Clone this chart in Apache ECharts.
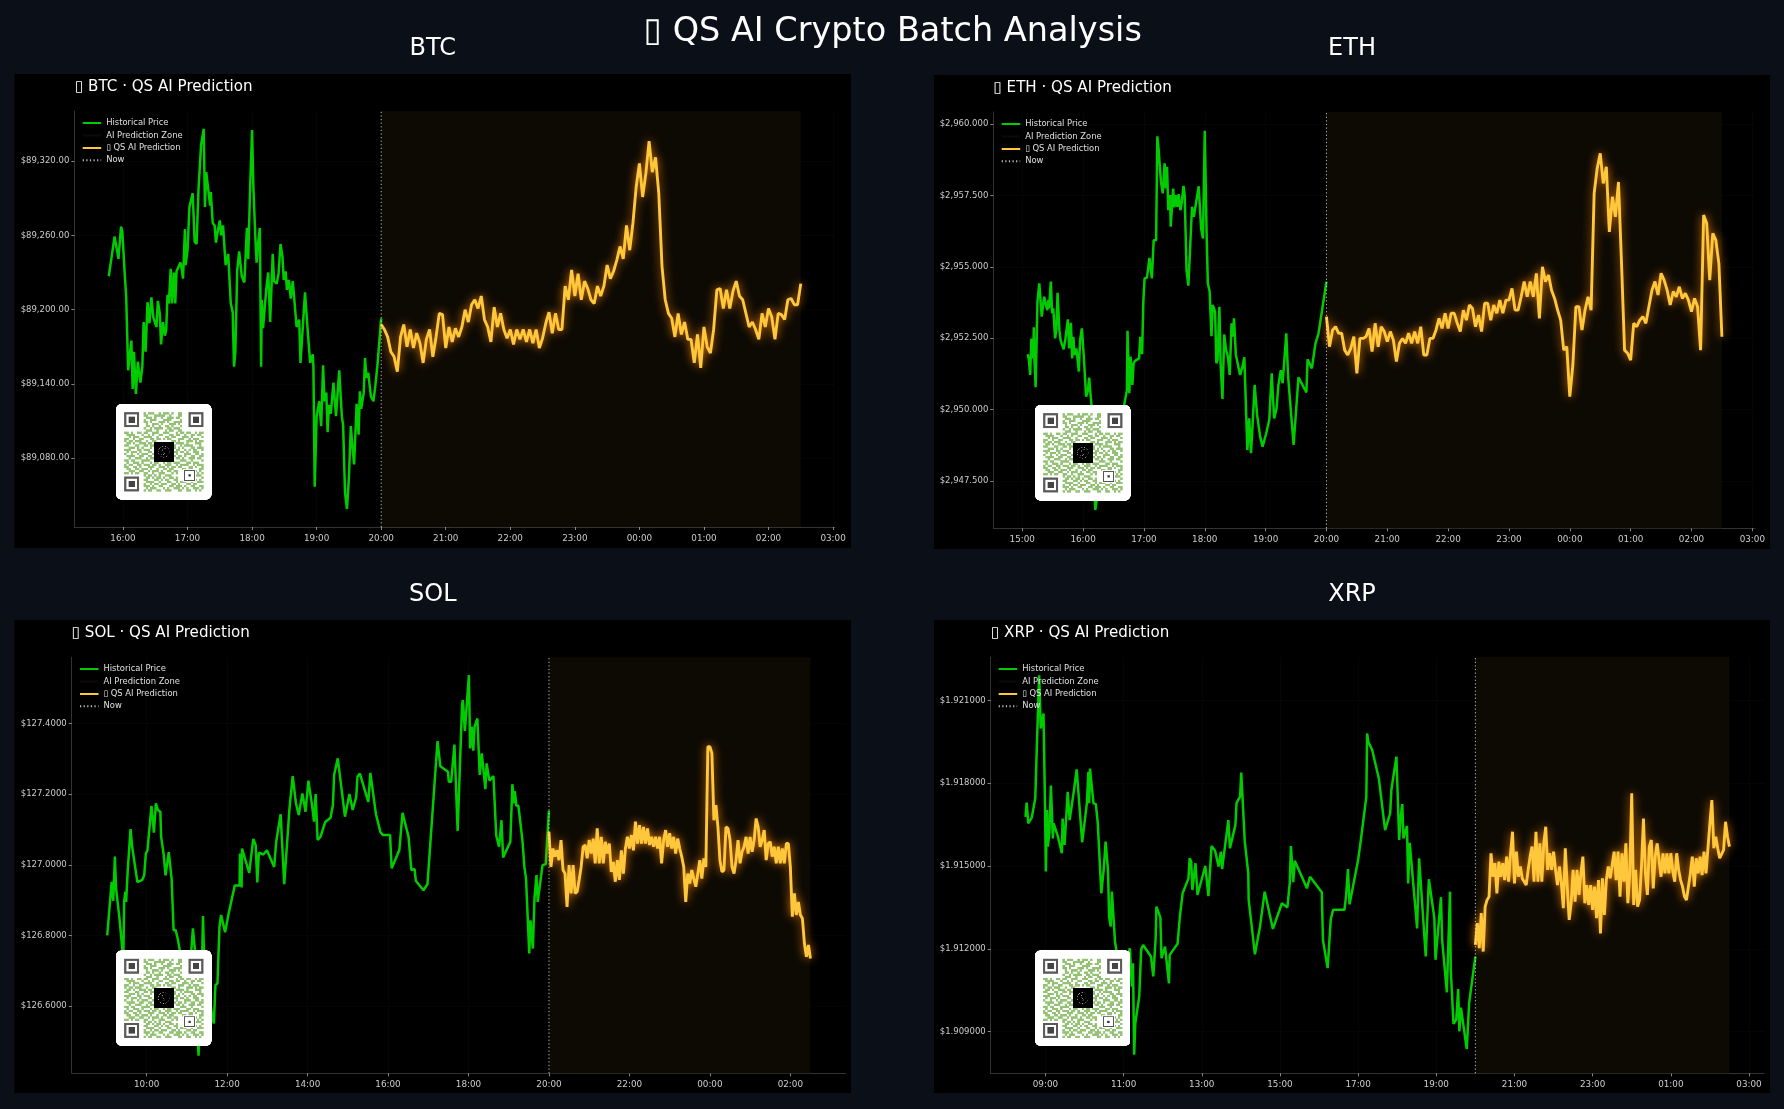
<!DOCTYPE html>
<html>
<head>
<meta charset="utf-8">
<title>QS AI Crypto Batch Analysis</title>
<script src="https://cdn.jsdelivr.net/npm/echarts@6/dist/echarts.min.js"></script>
<style>
  html, body { margin: 0; padding: 0; background: #0b0f17; }
  #main { width: 1784px; height: 1109px; }
</style>
</head>
<body>
<div id="main"></div>
<script>
// history points are [hour, price], hours past 24 belong to the next day
let btcHistory = [[15.78,89227],[15.87,89259],[15.93,89241],[15.97,89267],[15.99,89263],[16.02,89235],[16.05,89210],[16.08,89151],[16.11,89151],[16.13,89175],[16.15,89136],[16.17,89166],[16.20,89132],[16.23,89158],[16.27,89141],[16.30,89154],[16.32,89190],[16.35,89166],[16.38,89206],[16.41,89189],[16.44,89210],[16.47,89194],[16.50,89189],[16.52,89186],[16.54,89207],[16.57,89197],[16.59,89172],[16.62,89190],[16.65,89179],[16.67,89184],[16.69,89212],[16.71,89205],[16.74,89233],[16.76,89205],[16.79,89230],[16.81,89205],[16.83,89231],[16.86,89231],[16.89,89238],[16.91,89233],[16.93,89225],[16.96,89265],[16.97,89236],[17.00,89248],[17.03,89283],[17.06,89283],[17.08,89294],[17.11,89255],[17.14,89253],[17.17,89297],[17.21,89333],[17.25,89346],[17.27,89283],[17.29,89311],[17.31,89302],[17.33,89303],[17.35,89284],[17.36,89295],[17.39,89270],[17.42,89268],[17.44,89254],[17.47,89264],[17.50,89272],[17.52,89260],[17.55,89268],[17.59,89236],[17.63,89245],[17.67,89205],[17.70,89198],[17.72,89154],[17.74,89165],[17.77,89232],[17.80,89247],[17.84,89227],[17.88,89222],[17.92,89266],[17.94,89241],[17.97,89299],[18.00,89345],[18.02,89299],[18.05,89259],[18.07,89238],[18.09,89252],[18.12,89266],[18.14,89154],[18.15,89208],[18.17,89185],[18.20,89186],[18.22,89217],[18.25,89230],[18.28,89190],[18.32,89245],[18.34,89223],[18.38,89221],[18.41,89229],[18.44,89253],[18.47,89243],[18.49,89224],[18.52,89231],[18.54,89216],[18.57,89224],[18.60,89209],[18.63,89223],[18.65,89223],[18.69,89186],[18.73,89192],[18.75,89157],[18.77,89157],[18.82,89214],[18.86,89184],[18.90,89157],[18.94,89164],[18.95,89154],[18.97,89057],[19.00,89114],[19.04,89126],[19.07,89106],[19.10,89155],[19.12,89126],[19.15,89133],[19.17,89101],[19.19,89123],[19.22,89116],[19.26,89141],[19.30,89114],[19.35,89151],[19.39,89114],[19.41,89107],[19.44,89052],[19.47,89039],[19.50,89065],[19.53,89106],[19.55,89092],[19.58,89075],[19.62,89124],[19.65,89099],[19.67,89134],[19.69,89120],[19.73,89133],[19.75,89161],[19.77,89145],[19.80,89149],[19.84,89130],[19.88,89126],[19.91,89139],[19.94,89154],[19.97,89154],[20.00,89193]]

let btcPrediction = [89188,89184,89178,89166,89162,89150,89178,89188,89170,89184,89169,89181,89173,89157,89176,89184,89162,89178,89197,89196,89169,89186,89174,89185,89178,89186,89200,89190,89204,89208,89201,89211,89192,89186,89174,89202,89186,89197,89184,89177,89184,89172,89184,89176,89184,89174,89184,89173,89184,89169,89177,89189,89198,89181,89197,89184,89184,89219,89208,89232,89211,89229,89208,89223,89217,89208,89205,89219,89211,89219,89236,89225,89231,89240,89251,89241,89268,89248,89270,89299,89318,89291,89310,89336,89311,89323,89294,89235,89208,89197,89193,89178,89197,89180,89190,89176,89176,89157,89180,89153,89186,89170,89165,89184,89216,89217,89201,89216,89201,89215,89223,89211,89208,89197,89186,89190,89184,89176,89197,89186,89201,89194,89176,89197,89196,89192,89208,89209,89204,89204,89221]

let ethHistory = [[15.09,2951.94],[15.11,2951.73],[15.13,2951.21],[15.15,2952.49],[15.18,2951.79],[15.19,2952.88],[15.20,2951.73],[15.22,2950.78],[15.25,2953.78],[15.28,2954.42],[15.32,2953.25],[15.33,2953.25],[15.36,2953.95],[15.39,2953.99],[15.41,2953.48],[15.43,2953.83],[15.44,2953.54],[15.47,2954.48],[15.49,2953.37],[15.51,2953.54],[15.54,2952.49],[15.56,2952.78],[15.58,2954.09],[15.61,2952.78],[15.63,2952.43],[15.66,2952.43],[15.68,2952.11],[15.71,2952.49],[15.73,2952.55],[15.75,2953.16],[15.77,2952.14],[15.80,2953.04],[15.82,2951.79],[15.84,2952.55],[15.86,2951.91],[15.89,2952.14],[15.93,2951.33],[15.95,2952.43],[15.98,2952.84],[16.01,2951.91],[16.04,2951.91],[16.05,2950.45],[16.08,2950.68],[16.10,2951.12],[16.12,2950.57],[16.14,2950.10],[16.17,2948.00],[16.20,2946.48],[16.22,2946.54],[16.28,2947.65],[16.36,2947.18],[16.44,2947.53],[16.53,2947.65],[16.61,2949.17],[16.66,2949.98],[16.69,2950.33],[16.72,2950.68],[16.73,2952.76],[16.76,2950.57],[16.78,2951.85],[16.81,2950.86],[16.83,2951.62],[16.85,2951.70],[16.92,2951.79],[16.94,2952.55],[16.97,2951.94],[16.99,2953.78],[17.01,2954.59],[17.05,2954.62],[17.09,2955.31],[17.13,2954.59],[17.16,2955.93],[17.20,2955.93],[17.22,2959.57],[17.24,2959.14],[17.28,2957.97],[17.31,2957.57],[17.34,2958.62],[17.36,2957.74],[17.38,2958.50],[17.40,2956.98],[17.43,2957.51],[17.44,2956.40],[17.48,2957.74],[17.50,2957.08],[17.52,2957.51],[17.55,2957.10],[17.57,2957.54],[17.60,2956.98],[17.62,2957.22],[17.65,2957.83],[17.67,2957.51],[17.70,2954.88],[17.73,2954.34],[17.76,2955.70],[17.79,2957.10],[17.82,2956.75],[17.85,2956.81],[17.90,2957.82],[17.94,2956.34],[17.97,2955.99],[18.00,2959.76],[18.03,2956.17],[18.05,2954.42],[18.08,2954.13],[18.11,2952.57],[18.13,2953.66],[18.17,2953.43],[18.19,2951.62],[18.21,2951.73],[18.24,2953.60],[18.26,2951.62],[18.29,2950.37],[18.32,2952.63],[18.35,2952.08],[18.38,2951.85],[18.41,2951.21],[18.44,2953.02],[18.46,2952.55],[18.48,2953.19],[18.51,2951.94],[18.54,2951.97],[18.58,2951.21],[18.62,2951.50],[18.65,2951.83],[18.70,2948.58],[18.73,2949.69],[18.76,2948.47],[18.79,2949.63],[18.82,2950.86],[18.86,2949.81],[18.91,2949.05],[18.95,2948.70],[19.01,2949.17],[19.06,2949.63],[19.10,2951.27],[19.14,2949.69],[19.18,2950.04],[19.21,2950.86],[19.25,2951.38],[19.28,2950.92],[19.34,2952.67],[19.37,2951.15],[19.46,2948.76],[19.54,2951.13],[19.67,2950.60],[19.69,2951.76],[19.76,2951.44],[19.82,2952.32],[19.87,2952.67],[20.00,2954.48]]

let ethPrediction = [2953.25,2952.20,2952.78,2952.90,2952.67,2952.67,2952.08,2951.91,2952.14,2952.55,2951.27,2952.49,2952.49,2952.55,2952.84,2952.03,2953.02,2952.20,2952.90,2952.73,2952.38,2952.73,2952.43,2951.68,2952.32,2952.49,2952.32,2952.67,2952.32,2952.73,2952.32,2952.90,2951.91,2951.91,2952.49,2952.49,2952.78,2953.19,2952.84,2953.37,2952.84,2953.37,2953.37,2953.02,2952.73,2953.48,2953.13,2953.66,2953.54,2952.90,2953.31,2952.73,2953.72,2953.72,2953.13,2953.66,2953.37,2953.83,2953.37,2953.83,2953.83,2954.24,2953.48,2953.48,2953.95,2954.48,2953.95,2954.48,2953.95,2954.77,2953.19,2955.00,2954.48,2954.71,2954.18,2953.89,2953.48,2953.13,2952.08,2952.20,2950.45,2951.56,2953.60,2953.60,2952.78,2953.48,2953.95,2953.48,2957.57,2958.44,2958.97,2957.92,2958.50,2956.22,2957.45,2956.75,2957.97,2955.12,2952.08,2951.97,2951.73,2953.02,2952.90,2953.13,2953.25,2953.02,2953.60,2954.18,2954.48,2954.01,2954.77,2954.53,2954.18,2953.66,2954.13,2953.95,2954.30,2953.89,2954.07,2953.83,2953.43,2953.89,2953.60,2952.08,2956.81,2956.52,2954.53,2956.17,2955.93,2955.12,2952.55]

let solHistory = [[9.02,126.800],[9.13,126.952],[9.17,126.898],[9.21,127.023],[9.24,126.933],[9.32,126.853],[9.39,126.768],[9.42,126.730],[9.44,126.895],[9.47,126.924],[9.49,126.895],[9.53,126.985],[9.60,127.101],[9.64,127.051],[9.77,126.951],[9.89,126.957],[9.94,126.971],[9.98,127.032],[10.02,127.041],[10.12,127.167],[10.18,127.091],[10.23,127.174],[10.28,127.155],[10.34,127.150],[10.36,127.079],[10.42,127.032],[10.47,126.970],[10.55,127.036],[10.62,126.961],[10.67,126.815],[10.72,126.815],[10.77,126.792],[10.83,126.754],[10.91,126.693],[11.04,126.645],[11.10,126.740],[11.15,126.820],[11.20,126.759],[11.23,126.598],[11.29,126.460],[11.33,126.598],[11.38,126.740],[11.40,126.855],[11.43,126.730],[11.53,126.655],[11.62,126.579],[11.67,126.551],[11.71,126.660],[11.76,126.664],[11.81,126.825],[11.85,126.858],[11.95,126.809],[12.03,126.858],[12.19,126.941],[12.31,126.941],[12.32,127.032],[12.36,126.936],[12.37,127.046],[12.55,126.977],[12.65,127.073],[12.71,127.056],[12.75,126.950],[12.79,127.034],[12.90,127.029],[12.99,127.041],[13.17,126.994],[13.22,127.065],[13.33,127.143],[13.42,126.945],[13.55,127.159],[13.63,127.251],[13.71,127.174],[13.78,127.141],[13.87,127.202],[13.95,127.150],[14.02,127.238],[14.11,127.169],[14.16,127.122],[14.20,127.200],[14.25,127.070],[14.32,127.079],[14.44,127.121],[14.57,127.133],[14.63,127.169],[14.66,127.254],[14.75,127.301],[14.93,127.136],[15.04,127.200],[15.12,127.155],[15.21,127.192],[15.24,127.249],[15.30,127.258],[15.51,127.178],[15.56,127.260],[15.70,127.143],[15.81,127.093],[15.87,127.084],[15.91,127.086],[16.05,127.084],[16.09,126.990],[16.28,127.041],[16.36,127.147],[16.51,127.079],[16.58,126.985],[16.66,126.988],[16.69,126.955],[16.88,126.928],[16.98,126.945],[17.23,127.350],[17.30,127.279],[17.49,127.263],[17.51,127.235],[17.57,127.235],[17.65,127.340],[17.73,127.096],[17.84,127.452],[17.86,127.466],[17.91,127.379],[18.01,127.537],[18.04,127.329],[18.08,127.390],[18.12,127.323],[18.15,127.390],[18.22,127.414],[18.28,127.254],[18.33,127.315],[18.42,127.214],[18.45,127.287],[18.52,127.238],[18.62,127.251],[18.69,127.082],[18.76,127.051],[18.82,127.126],[18.86,127.021],[19.04,127.065],[19.09,127.228],[19.13,127.174],[19.15,127.208],[19.19,127.167],[19.24,127.167],[19.34,127.070],[19.39,126.994],[19.43,126.961],[19.51,126.749],[19.54,126.843],[19.60,126.763],[19.64,126.905],[19.69,126.971],[19.72,126.895],[19.84,126.999],[19.92,127.002],[20.00,127.153]]

let solPrediction = [127.093,126.994,127.046,127.023,127.041,127.013,127.070,126.985,126.975,126.881,126.999,126.919,126.999,126.919,126.924,126.957,126.994,127.051,127.056,127.018,127.070,127.032,127.074,127.004,127.103,127.004,127.079,127.004,127.065,127.032,127.060,126.980,127.008,126.952,127.013,126.957,127.041,126.975,127.046,127.079,127.046,127.084,127.041,127.122,127.060,127.112,127.060,127.107,127.060,127.103,127.056,127.079,127.051,127.079,127.046,127.079,127.004,127.070,127.098,127.051,127.089,127.046,127.079,127.032,127.074,127.046,127.023,126.994,126.895,126.975,126.947,126.985,126.961,126.938,126.975,127.013,126.961,127.018,126.994,127.334,127.334,127.315,127.126,127.169,127.107,127.013,126.980,126.985,127.107,127.103,127.070,126.994,126.975,127.013,127.070,127.004,127.037,127.051,127.079,127.032,127.079,127.037,127.070,127.131,127.107,127.051,127.070,127.098,127.013,127.060,127.065,127.023,127.051,127.004,127.051,127.004,127.046,127.004,127.060,127.060,126.994,126.853,126.919,126.858,126.895,126.858,126.848,126.777,126.740,126.773,126.735]

let xrpHistory = [[8.49,1.91678],[8.52,1.91730],[8.56,1.91654],[8.65,1.91675],[8.74,1.91745],[8.78,1.91932],[8.84,1.92191],[8.88,1.91998],[8.92,1.91994],[8.95,1.92052],[8.99,1.91715],[9.01,1.91480],[9.04,1.91703],[9.06,1.91570],[9.10,1.91618],[9.14,1.91791],[9.19,1.91600],[9.21,1.91654],[9.32,1.91606],[9.42,1.91546],[9.44,1.91672],[9.49,1.91576],[9.57,1.91769],[9.62,1.91666],[9.73,1.91775],[9.80,1.91850],[9.84,1.91847],[9.94,1.91586],[10.06,1.91727],[10.10,1.91841],[10.12,1.91727],[10.14,1.91853],[10.23,1.91727],[10.29,1.91724],[10.34,1.91654],[10.43,1.91401],[10.49,1.91486],[10.54,1.91588],[10.60,1.91486],[10.63,1.91317],[10.67,1.91281],[10.70,1.91407],[10.78,1.91226],[10.82,1.91190],[10.89,1.91160],[10.98,1.91142],[11.07,1.91154],[11.16,1.91202],[11.21,1.91063],[11.24,1.91148],[11.27,1.90816],[11.30,1.90931],[11.40,1.91027],[11.45,1.91198],[11.50,1.91214],[11.70,1.91172],[11.76,1.91100],[11.82,1.91238],[11.84,1.91353],[11.94,1.91314],[11.97,1.91166],[12.06,1.91208],[12.16,1.91075],[12.18,1.91178],[12.38,1.91218],[12.44,1.91317],[12.51,1.91401],[12.66,1.91455],[12.69,1.91528],[12.73,1.91516],[12.76,1.91413],[12.84,1.91510],[12.89,1.91395],[13.09,1.91500],[13.17,1.91391],[13.25,1.91572],[13.34,1.91555],[13.43,1.91498],[13.49,1.91552],[13.52,1.91489],[13.68,1.91666],[13.72,1.91564],[13.81,1.91618],[13.86,1.91648],[13.89,1.91729],[13.98,1.91751],[14.01,1.91838],[14.10,1.91588],[14.19,1.91473],[14.20,1.91377],[14.23,1.91371],[14.36,1.91180],[14.49,1.91281],[14.61,1.91407],[14.82,1.91272],[15.05,1.91365],[15.19,1.91350],[15.25,1.91437],[15.28,1.91572],[15.34,1.91441],[15.38,1.91519],[15.69,1.91419],[15.77,1.91461],[16.07,1.91405],[16.10,1.91232],[16.22,1.91130],[16.30,1.91307],[16.36,1.91341],[16.65,1.91341],[16.69,1.91389],[16.74,1.91489],[16.78,1.91361],[16.86,1.91419],[17.00,1.91522],[17.07,1.91594],[17.21,1.91751],[17.23,1.91980],[17.26,1.91950],[17.36,1.91920],[17.53,1.91817],[17.69,1.91630],[17.82,1.91691],[17.85,1.91775],[17.98,1.91896],[18.05,1.91594],[18.09,1.91678],[18.13,1.91724],[18.16,1.91600],[18.25,1.91645],[18.28,1.91437],[18.32,1.91584],[18.51,1.91274],[18.56,1.91528],[18.73,1.91172],[18.81,1.91452],[18.95,1.91311],[18.98,1.91160],[19.12,1.91387],[19.15,1.91232],[19.19,1.91226],[19.27,1.91042],[19.35,1.91407],[19.37,1.91124],[19.44,1.90928],[19.51,1.90943],[19.56,1.91054],[19.59,1.90901],[19.63,1.90987],[19.78,1.90837],[19.84,1.91003],[20.00,1.91172]]

let xrpPrediction = [1.91214,1.91293,1.91202,1.91329,1.91190,1.91353,1.91377,1.91389,1.91546,1.91461,1.91510,1.91401,1.91516,1.91461,1.91510,1.91449,1.91534,1.91443,1.91546,1.91624,1.91437,1.91552,1.91461,1.91498,1.91455,1.91461,1.91431,1.91486,1.91534,1.91570,1.91443,1.91624,1.91443,1.91582,1.91443,1.91582,1.91642,1.91486,1.91546,1.91486,1.91552,1.91486,1.91431,1.91498,1.91437,1.91347,1.91564,1.91425,1.91305,1.91365,1.91486,1.91371,1.91486,1.91395,1.91473,1.91534,1.91365,1.91431,1.91359,1.91431,1.91341,1.91425,1.91311,1.91449,1.91256,1.91455,1.91323,1.91449,1.91498,1.91455,1.91461,1.91552,1.91449,1.91552,1.91389,1.91546,1.91443,1.91582,1.91365,1.91473,1.91763,1.91359,1.91486,1.91353,1.91377,1.91498,1.91672,1.91473,1.91395,1.91570,1.91594,1.91419,1.91534,1.91582,1.91588,1.91461,1.91546,1.91473,1.91546,1.91473,1.91546,1.91480,1.91443,1.91546,1.91486,1.91449,1.91425,1.91389,1.91377,1.91383,1.91473,1.91534,1.91425,1.91528,1.91473,1.91534,1.91467,1.91552,1.91473,1.91467,1.91654,1.91739,1.91564,1.91606,1.91564,1.91528,1.91522,1.91558,1.91660,1.91606,1.91570]

let btcPriceTicks = [89080, 89140, 89200, 89260, 89320]
let ethPriceTicks = [2947.5, 2950, 2952.5, 2955, 2957.5, 2960]
let solPriceTicks = [126.6, 126.8, 127, 127.2, 127.4]
let xrpPriceTicks = [1.909, 1.912, 1.915, 1.918, 1.921]

let btcHourTicks = [16, 17, 18, 19, 20, 21, 22, 23, 24, 25, 26, 27]
let ethHourTicks = [15, 16, 17, 18, 19, 20, 21, 22, 23, 24, 25, 26, 27]
let solHourTicks = [10, 12, 14, 16, 18, 20, 22, 24, 26]
let xrpHourTicks = [9, 11, 13, 15, 17, 19, 21, 23, 25, 27]

let qrRows = [
  '0000000001011100101110100110000000000',
  '0000000001100011111001000110000000000',
  '0000000000111010010011101100000000000',
  '0000000001001110001111000010000000000',
  '0000000001101000111010011110000000000',
  '0000000000100111010001110100000000000',
  '0000000000110100100110100010000000000',
  '0000000001001011110011011100000000000',
  '0000000000111001000101100110000000000',
  '1101001101100111001110001011011001011',
  '0111100010010100110001101100100110110',
  '0010111001111001000110110001110100001',
  '1100100110001101101011000111001011100',
  '1011011100100110000000110100011101011',
  '0110100111011000000000001111010001110',
  '1100011001101110000000010010111100010',
  '0011101010001000000000110101000110111',
  '1110001101110010000000001100101011001',
  '0101110100011000000000011011010011100',
  '1001001011100100000000101000111001101',
  '0111100110011010000000010110100110011',
  '0010011100101101011001101101001110110',
  '1101100011110001110100100011100100001',
  '0100111010001011001011011100011011100',
  '1011001101110110100111001011110010111',
  '1100110100011100111010110110001101001',
  '0110011011101001001101100001101100011',
  '0011100110010111010011011000010111010',
  '1101011001100100111000101000001100101',
  '0000000001011010100111000000110011110',
  '0000000000110101101001101000100110001',
  '0000000001100011010110011000111001010',
  '0000000000111100100011001011100100111',
  '0000000001001011011100110100011011000',
  '0000000001110100110001101110100110011',
  '0000000000101110001010011101010011101',
  '0000000001011001100111000110011001010'
]

let nowHour = 20
let zoneEndHour = 26.5
let colorHistory = '#00cc00'
let colorPrediction = '#ffc83c'
let colorZone = '#0d0a04'
let fontName = 'DejaVu Sans'

let panels = [
  {
    name: 'BTC', history: btcHistory, prediction: btcPrediction, priceTicks: btcPriceTicks, hourTicks: btcHourTicks, digits: 2,
    box: [14.5, 74, 836.5, 474], grid: [74.3, 111, 760.7, 416], xRange: [15.246, 27.03], yRange: [89024.5, 89360.4],
    legendPos: [81.7, 119], innerLeft: 75, qr: [116, 404]
  },
  {
    name: 'ETH', history: ethHistory, prediction: ethPrediction, priceTicks: ethPriceTicks, hourTicks: ethHourTicks, digits: 3,
    box: [934, 75, 836, 474], grid: [993.3, 112, 761.7, 416.3], xRange: [14.524, 27.044], yRange: [2945.84, 2960.42],
    legendPos: [1000.7, 120], innerLeft: 993.5, qr: [1035, 405]
  },
  {
    name: 'SOL', history: solHistory, prediction: solPrediction, priceTicks: solPriceTicks, hourTicks: solHourTicks, digits: 4,
    box: [14.5, 620, 836.5, 473], grid: [71.7, 657.3, 774, 416], xRange: [8.137, 27.376], yRange: [126.41, 127.587],
    legendPos: [79, 665], innerLeft: 71.7, qr: [116, 950.3]
  },
  {
    name: 'XRP', history: xrpHistory, prediction: xrpPrediction, priceTicks: xrpPriceTicks, hourTicks: xrpHourTicks, digits: 6,
    box: [934, 620, 836, 473], grid: [990.7, 657, 773.3, 416.3], xRange: [7.6, 27.384], yRange: [1.90749, 1.92257],
    legendPos: [997.7, 665], innerLeft: 991, qr: [1034.9, 950.3]
  }
]

// the QR sticker is the same picture on every panel
function makeQrCanvas() {
  let scale = 4
  let size = 95.5
  let cell = 2.14
  let margin = 8.3
  let canvas = document.createElement('canvas')
  canvas.width = size * scale
  canvas.height = size * scale
  let ctx = canvas.getContext('2d')
  ctx.scale(scale, scale)
  ctx.fillStyle = '#fff'
  ctx.beginPath()
  ctx.roundRect(0, 0, size, size, 5)
  ctx.fill()

  ctx.fillStyle = '#93c274'
  qrRows.forEach(function (row, r) {
    for (let c = 0; c < row.length; c++) {
      if (row[c] === '1') {
        ctx.fillRect(margin + c * cell, margin + r * cell, cell + 0.1, cell + 0.1)
      }
    }
  })

  function finder(c, r) {
    let x = margin + c * cell
    let y = margin + r * cell
    ctx.fillStyle = '#5a5a5a'
    ctx.fillRect(x, y, 7 * cell, 7 * cell)
    ctx.fillStyle = '#fff'
    ctx.fillRect(x + cell, y + cell, 5 * cell, 5 * cell)
    ctx.fillStyle = '#444'
    ctx.fillRect(x + 2 * cell, y + 2 * cell, 3 * cell, 3 * cell)
  }
  finder(0, 0)
  finder(30, 0)
  finder(0, 30)

  // alignment square
  let ax = margin + 28 * cell
  let ay = margin + 27 * cell
  ctx.fillStyle = '#fff'
  ctx.fillRect(ax - 1, ay - 1, 5 * cell + 2, 5 * cell + 2)
  ctx.fillStyle = '#555'
  ctx.fillRect(ax, ay, 5 * cell, 5 * cell)
  ctx.fillStyle = '#fff'
  ctx.fillRect(ax + 0.8, ay + 0.8, 5 * cell - 1.6, 5 * cell - 1.6)
  ctx.fillStyle = '#333'
  ctx.fillRect(ax + 2 * cell, ay + 2 * cell, cell, cell)

  // black logo tile in the middle
  let lx = size / 2 - 10
  let ly = size / 2 - 10
  ctx.fillStyle = '#000'
  ctx.fillRect(lx, ly, 20, 20)
  ctx.strokeStyle = 'rgba(220,220,220,0.75)'
  ctx.lineWidth = 0.5
  ctx.setLineDash([0.8, 0.9])
  ctx.beginPath()
  ctx.arc(size / 2, size / 2, 5.5, 0, Math.PI * 2)
  ctx.stroke()
  ctx.beginPath()
  ctx.moveTo(size / 2 + 2.5, size / 2 - 3)
  ctx.quadraticCurveTo(size / 2 - 3, size / 2 - 4, size / 2 - 0.5, size / 2)
  ctx.quadraticCurveTo(size / 2 + 3, size / 2 + 3, size / 2 - 2.5, size / 2 + 3)
  ctx.stroke()
  return canvas
}

function hourLabel(h) {
  let hh = h % 24
  return (hh < 10 ? '0' + hh : hh) + ':00'
}

function priceLabel(v, digits) {
  return '$' + v.toLocaleString('en-US', { minimumFractionDigits: digits, maximumFractionDigits: digits })
}

let legendNames = ['Historical Price', 'AI Prediction Zone', '\u25AF QS AI Prediction', 'Now']
let qrCanvas = makeQrCanvas()

let titles = [{
  text: '\u25AF QS AI Crypto Batch Analysis',
  left: 892.7, top: 15, padding: 0, textAlign: 'center',
  textStyle: { color: '#fff', fontSize: 33.5, fontWeight: 'normal', fontFamily: fontName }
}]
let grids = []
let xAxes = []
let yAxes = []
let legends = []
let series = []
let graphics = []

panels.forEach(function (p, i) {
  let subTop = p.box[1] < 300 ? 36.5 : 582.5
  titles.push({
    text: p.name,
    left: p.box[0] + p.box[2] / 2, top: subTop, padding: 0, textAlign: 'center',
    textStyle: { color: '#fff', fontSize: 24, fontWeight: 'normal', fontFamily: fontName }
  })
  titles.push({
    text: '\u25AF ' + p.name + ' \u00B7 QS AI Prediction',
    left: p.innerLeft, top: p.box[1] + 5.3, padding: 0,
    textStyle: { color: '#fff', fontSize: 15.1, fontWeight: 'normal', fontFamily: fontName }
  })

  graphics.push({
    type: 'rect', z: -10, silent: true,
    shape: { x: p.box[0], y: p.box[1], width: p.box[2], height: p.box[3] },
    style: { fill: '#000' }
  })
  graphics.push({
    type: 'image', z: 100, silent: true,
    style: { image: qrCanvas, x: p.qr[0], y: p.qr[1], width: 95.5, height: 95.5 }
  })

  grids.push({ left: p.grid[0], top: p.grid[1], width: p.grid[2], height: p.grid[3], containLabel: false })

  xAxes.push({
    type: 'value', gridIndex: i, min: p.xRange[0], max: p.xRange[1],
    axisLine: { onZero: false, lineStyle: { color: '#333' } },
    axisTick: { customValues: p.hourTicks, length: 3, lineStyle: { color: '#aaa', width: 0.8 } },
    axisLabel: {
      customValues: p.hourTicks, color: '#ccc', fontSize: 8.8, margin: 7,
      formatter: function (v) { return hourLabel(v) }
    },
    splitLine: { show: true, lineStyle: { color: 'rgba(255,255,255,0.02)', width: 1 } }
  })
  yAxes.push({
    type: 'value', gridIndex: i, min: p.yRange[0], max: p.yRange[1],
    axisLine: { show: true, onZero: false, lineStyle: { color: '#333' } },
    axisTick: { show: true, customValues: p.priceTicks, length: 3, lineStyle: { color: '#aaa', width: 0.8 } },
    axisLabel: {
      customValues: p.priceTicks, color: '#ccc', fontSize: 8.5, margin: 5,
      formatter: function (v) { return priceLabel(v, p.digits) }
    },
    splitLine: { show: true, lineStyle: { color: 'rgba(255,255,255,0.02)', width: 1 } }
  })

  legends.push({
    data: legendNames, left: p.legendPos[0], top: p.legendPos[1], orient: 'vertical', padding: 0,
    itemWidth: 18.5, itemHeight: 8, itemGap: 4.3, selectedMode: false,
    itemStyle: { opacity: 0 },
    textStyle: { color: '#e0e0e0', fontSize: 8.4, fontFamily: fontName }
  })

  let predictionHours = p.prediction.map(function (v, k) {
    return [nowHour + k * (zoneEndHour - nowHour) / (p.prediction.length - 1), v]
  })

  series.push({
    name: legendNames[1], type: 'line', xAxisIndex: i, yAxisIndex: i, data: [], z: 1, silent: true,
    showSymbol: false, lineStyle: { color: colorZone, width: 7 }, itemStyle: { color: colorZone },
    markArea: { silent: true, itemStyle: { color: colorZone }, data: [[{ xAxis: nowHour }, { xAxis: zoneEndHour }]] }
  })
  series.push({
    name: legendNames[0], type: 'line', xAxisIndex: i, yAxisIndex: i, data: p.history, z: 3, silent: true,
    showSymbol: false, symbol: 'none', lineStyle: { color: colorHistory, width: 2.5 }, itemStyle: { color: colorHistory }
  })
  series.push({
    name: legendNames[2], type: 'line', xAxisIndex: i, yAxisIndex: i, data: predictionHours, z: 4, silent: true,
    showSymbol: false, symbol: 'none',
    lineStyle: { color: colorPrediction, width: 2.9, shadowBlur: 10, shadowColor: 'rgba(255,140,0,0.85)' },
    itemStyle: { color: colorPrediction }
  })
  series.push({
    name: legendNames[3], type: 'line', xAxisIndex: i, yAxisIndex: i, z: 5, silent: true,
    data: [[nowHour, p.yRange[0]], [nowHour, p.yRange[1]]],
    showSymbol: false, symbol: 'none',
    lineStyle: { color: 'rgba(255,255,255,0.75)', width: 1, type: [1.2, 2.4] }, itemStyle: { color: '#ddd' }
  })
})

let myChart = echarts.init(document.getElementById('main'))
myChart.setOption({
  backgroundColor: '#0b0f17',
  animation: false,
  textStyle: { fontFamily: fontName },
  title: titles,
  grid: grids,
  xAxis: xAxes,
  yAxis: yAxes,
  legend: legends,
  series: series,
  graphic: { elements: graphics }
})
</script>
</body>
</html>
